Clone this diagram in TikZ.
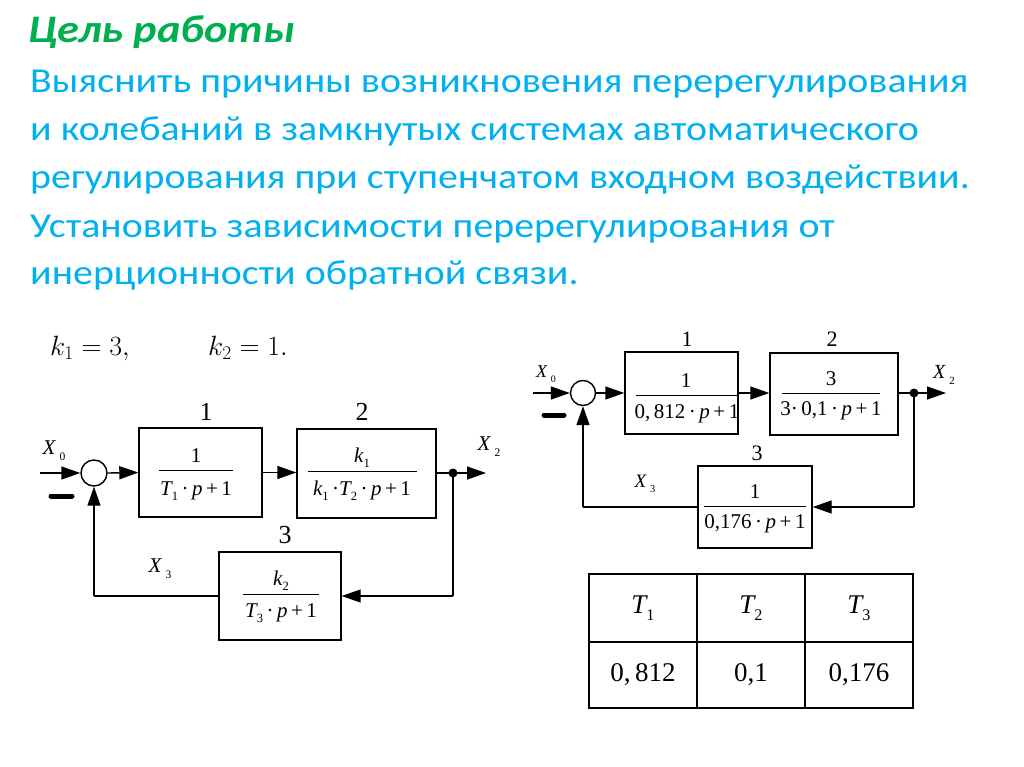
\documentclass[tikz,border=0pt]{standalone}
\usepackage{fontspec}
\setmainfont{Liberation Serif}
\newfontfamily\calibfont{Carlito}
\usetikzlibrary{arrows.meta}
\definecolor{tgreen}{HTML}{00B050}
\definecolor{tblue}{HTML}{00B0F0}
\newcommand\fz[1]{\fontsize{#1}{#1}\selectfont}
\newcommand\vi[1]{{\itshape #1}}
\newcommand\sbs[1]{\raisebox{-0.25em}{\scalebox{0.6}{#1}}}
\newcommand\xs[1]{\vi{X}\hspace{0.2em}\raisebox{-0.3em}{\scalebox{0.55}{#1}}}
\newcommand\wide[1]{\scalebox{1.14}[1]{#1}}
\begin{document}
\begin{tikzpicture}[x=1pt,y=-1pt,
  blk/.style={draw,line width=1.4pt,inner sep=0pt},
  arr/.style={line width=1.4pt,-{Triangle[length=19pt,width=13pt]}},
  ln/.style={line width=1.4pt},
  sumc/.style={draw,circle,line width=1.4pt,inner sep=0pt},
  dotn/.style={circle,fill,inner sep=0pt,minimum size=9pt},
  txt/.style={anchor=base,inner sep=0pt},
  ftxt/.style={anchor=base,inner sep=0pt,font=\fz{21}},
  body/.style={anchor=base west,inner sep=0pt,text=tblue,font=\calibfont\fz{35}},
  cell/.style={draw,line width=1.5pt,inner sep=0pt,font=\fz{27}}
]
\useasboundingbox (0,0) rectangle (1024,767);
\fill[white] (0,0) rectangle (1024,767);

% heading
\node[anchor=base west,inner sep=0pt,text=tgreen,font=\calibfont\bfseries\itshape\fz{39}] (title) at (28,43) {\wide{Цель работы}};
\node[body] (l1) at (30,93) {\wide{Выяснить причины возникновения перерегулирования}};
\node[body] (l2) at (30,141) {\wide{и колебаний в замкнутых системах автоматического}};
\node[body] (l3) at (30,189) {\wide{регулирования при ступенчатом входном воздействии.}};
\node[body] (l4) at (30,237) {\wide{Установить зависимости перерегулирования от}};
\node[body] (l5) at (30,284) {\wide{инерционности обратной связи.}};

% parameters
\node[anchor=base west,inner sep=0pt,font=\fz{25}] (k1) at (50,355) {\scalebox{1.12}{$k_1 = 3,$}};
\node[anchor=base west,inner sep=0pt,font=\fz{25}] (k2) at (208,355) {\scalebox{1.12}{$k_2 = 1.$}};

% ===== left diagram =====
\node[sumc,minimum size=26pt] (ls) at (94,473) {};
\node[blk,minimum width=123pt,minimum height=89pt] (lb1) at (200.5,472.5) {};
\node[blk,minimum width=139pt,minimum height=89pt] (lb2) at (366.5,473.5) {};
\node[blk,minimum width=122pt,minimum height=88pt] (lb3) at (280,596) {};
\node[dotn] (ld) at (453,473) {};
\coordinate (lin) at (40,473);
\coordinate (lout) at (486,473);
\coordinate (ldb) at (453,596);
\coordinate (llb) at (94,596);

\node[txt,font=\fz{26}] (ln1) at (206,420) {1};
\node[txt,font=\fz{26}] (ln2) at (362,420) {2};
\node[txt,font=\fz{26}] (ln3) at (285,543) {3};
\node[txt,font=\fz{21}] (lx0) at (54,454) {\xs{0}};
\node[txt,font=\fz{21}] (lx2) at (489,450) {\xs{2}};
\node[txt,font=\fz{21}] (lx3) at (160,572) {\xs{3}};

% fractions left
\node[ftxt] (lf1n) at (196,462) {1};
\draw[line width=1pt] (159,470.5) -- (233,470.5);
\node[ftxt] (lf1d) at (196,495) {\vi{T}\sbs{1}\,·\,\vi{p}\,+\,1};
\node[ftxt] (lf2n) at (362,462) {\vi{k}\sbs{1}};
\draw[line width=1pt] (308,471) -- (417,471);
\node[ftxt] (lf2d) at (362,495) {\vi{k}\sbs{1}\,·\vi{T}\sbs{2}\,·\,\vi{p}\,+\,1};
\node[ftxt] (lf3n) at (281,585) {\vi{k}\sbs{2}};
\draw[line width=1pt] (243,594) -- (319,594);
\node[ftxt] (lf3d) at (281,617) {\vi{T}\sbs{3}\,·\,\vi{p}\,+\,1};

\draw[arr] (lin) -- (ls.west);
\draw[arr] (ls.east) -- (lb1.west);
\draw[arr] (lb1.east) -- (lb2.west |- lb1.east);
\draw[ln] (lb2.east |- ld) -- (ld.center);
\draw[arr] (ld.center) -- (lout);
\draw[ln] (ld.center) -- (ldb);
\draw[arr] (ldb) -- (lb3.east);
\draw[ln] (lb3.west) -- (llb);
\draw[arr] (llb) -- (ls.south);
\draw[line width=5pt,line cap=round] (51,496) -- (72,496);

% ===== right diagram =====
\node[sumc,minimum size=25pt] (rs) at (583,393) {};
\node[blk,minimum width=113pt,minimum height=82pt] (rb1) at (681.5,393) {};
\node[blk,minimum width=128pt,minimum height=82pt] (rb2) at (834,394) {};
\node[blk,minimum width=114pt,minimum height=82pt] (rb3) at (755,507) {};
\node[dotn] (rd) at (914,393) {};
\coordinate (rin) at (533,393);
\coordinate (rout) at (946,393);
\coordinate (rdb) at (914,507);
\coordinate (rlb) at (583,507);

\node[txt,font=\fz{22}] (rn1) at (687,346) {1};
\node[txt,font=\fz{22}] (rn2) at (832,346) {2};
\node[txt,font=\fz{22}] (rn3) at (757,460) {3};
\node[txt,font=\fz{18}] (rx0) at (546,377) {\xs{0}};
\node[txt,font=\fz{20}] (rx2) at (944,378) {\xs{2}};
\node[txt,font=\fz{19}] (rx3) at (645,487) {\xs{3}};

\node[ftxt] (rf1n) at (686,387) {1};
\draw[line width=1pt] (636,395) -- (738,395);
\node[ftxt] (rf1d) at (687,418) {0,\,812\,·\,\vi{p}\,+\,1};
\node[ftxt] (rf2n) at (831,385) {3};
\draw[line width=1pt] (782,393) -- (880,393);
\node[ftxt] (rf2d) at (831,415) {3·\,0,1\,·\,\vi{p}\,+\,1};
\node[ftxt] (rf3n) at (755,498) {1};
\draw[line width=1pt] (704,506) -- (806,506);
\node[ftxt] (rf3d) at (755,528) {0,176\,·\,\vi{p}\,+\,1};

\draw[arr] (rin) -- (rs.west);
\draw[arr] (rs.east) -- (rb1.west);
\draw[arr] (rb1.east) -- (rb2.west |- rb1.east);
\draw[ln] (rb2.east |- rd) -- (rd.center);
\draw[arr] (rd.center) -- (rout);
\draw[ln] (rd.center) -- (rdb);
\draw[arr] (rdb) -- (rb3.east);
\draw[ln] (rb3.west) -- (rlb);
\draw[arr] (rlb) -- (rs.south);
\draw[line width=5pt,line cap=round] (544,415) -- (564,415);

% ===== table =====
\node[cell,minimum width=108pt,minimum height=68pt] (t11) at (643,608) {\vi{T}\sbs{1}};
\node[cell,minimum width=108pt,minimum height=68pt] (t12) at (751,608) {\vi{T}\sbs{2}};
\node[cell,minimum width=108pt,minimum height=68pt] (t13) at (859,608) {\vi{T}\sbs{3}};
\node[cell,minimum width=108pt,minimum height=66pt] (t21) at (643,675) {0,\,812};
\node[cell,minimum width=108pt,minimum height=66pt] (t22) at (751,675) {0,1};
\node[cell,minimum width=108pt,minimum height=66pt] (t23) at (859,675) {0,176};
\end{tikzpicture}
\end{document}
